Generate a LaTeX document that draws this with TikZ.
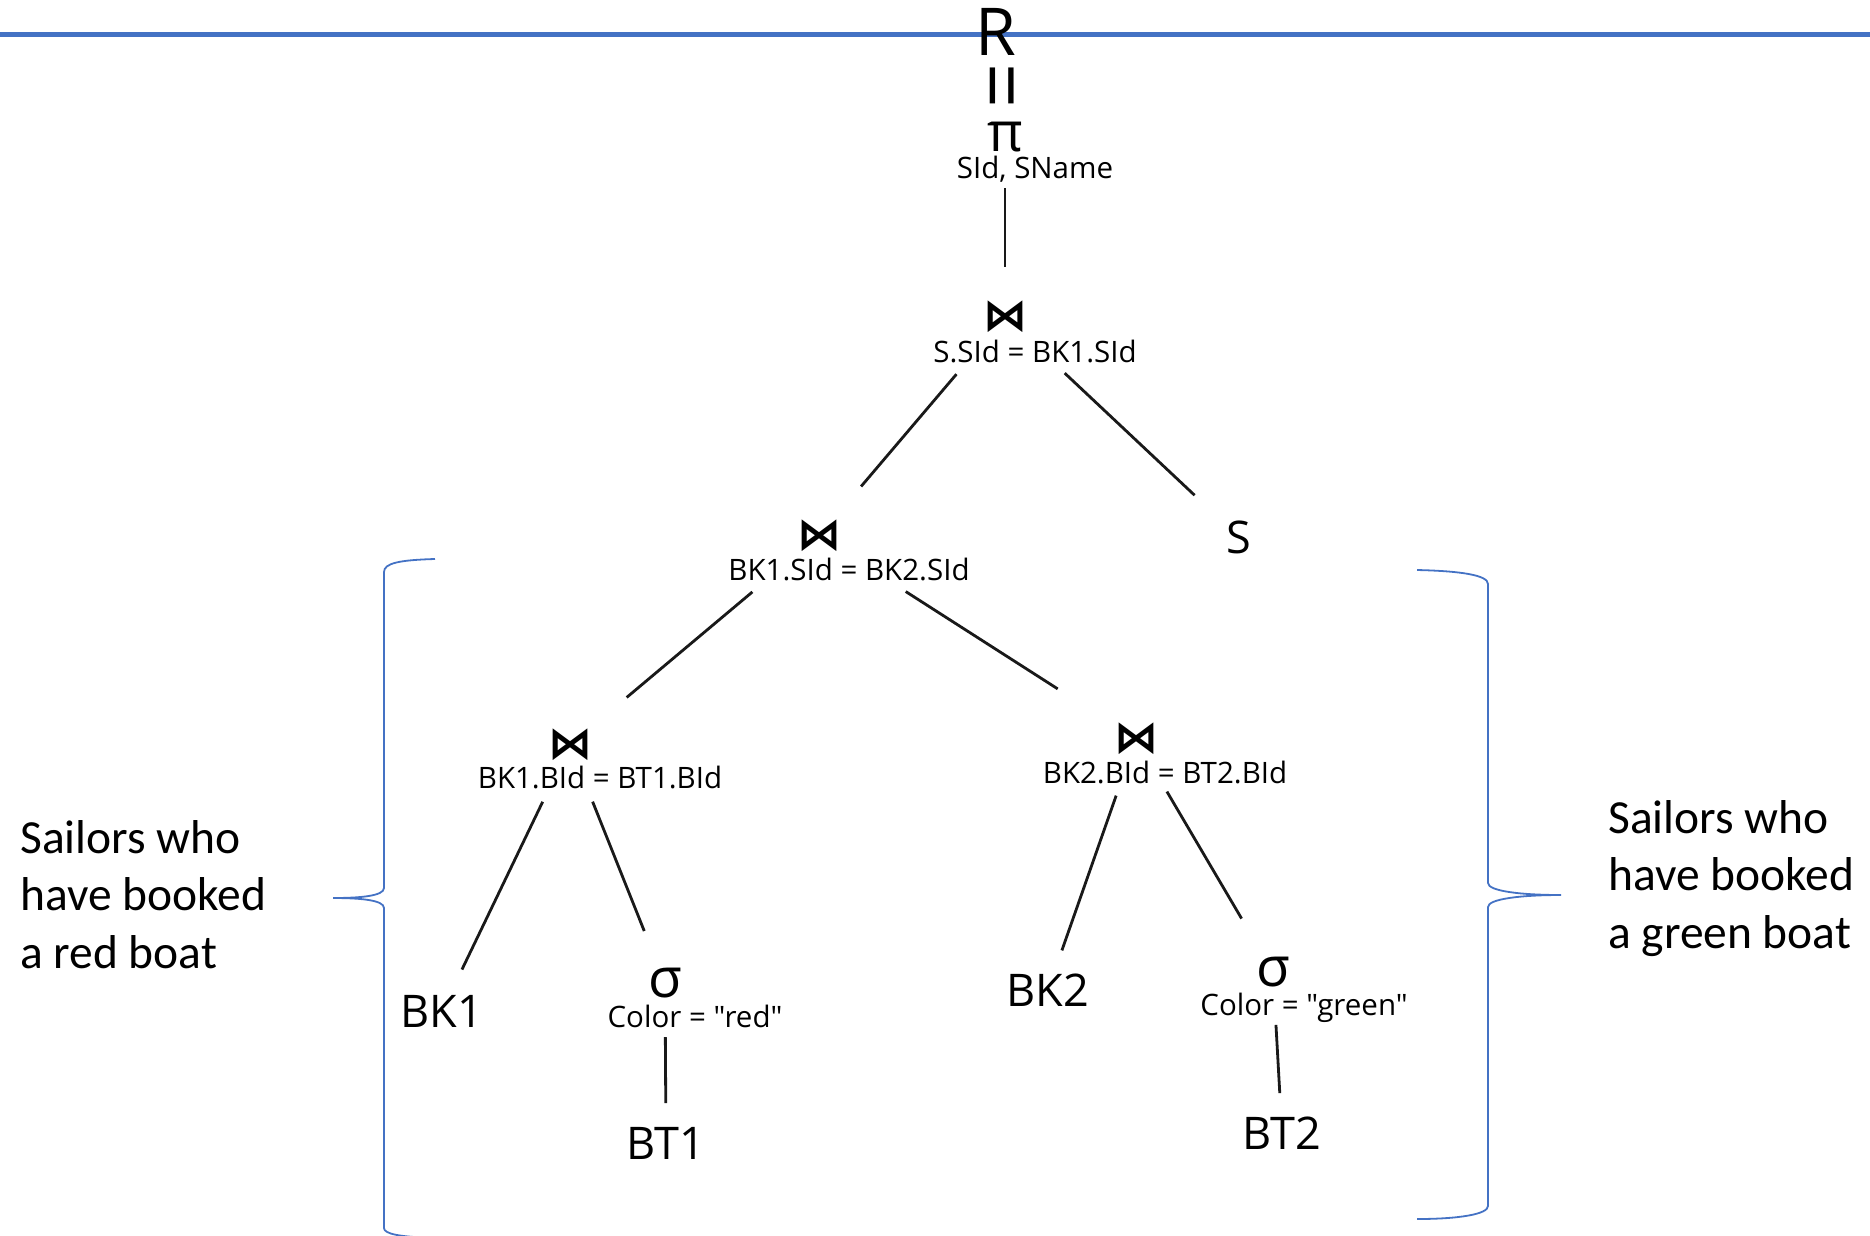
\documentclass[tikz,border=0pt]{standalone}
\usepackage{fontspec}
\setmainfont{Open Sans}[Ligatures=TeXOff]
\newfontfamily\notefont{Carlito}
\newfontfamily\opfont{DejaVu Sans}
\newfontfamily\eqfont{Liberation Sans}
\definecolor{braceblue}{HTML}{4472C4}
\tikzset{
  rel/.style={inner sep=0pt, font=\fontsize{45}{54}\selectfont},
  cond/.style={inner sep=0pt, anchor=base, font=\fontsize{29.5}{34}\selectfont},
  op/.style={inner sep=0pt, font=\opfont\bfseries\fontsize{44}{48}\selectfont},
  greek/.style={inner sep=0pt, font=\fontsize{55}{60}\selectfont},
  note/.style={inner sep=0pt, anchor=base west, align=left, font=\notefont\fontsize{47.5}{57.5}\selectfont},
  tree/.style={line width=2.8pt, color=black!90},
  bracket/.style={line width=1.8pt, color=braceblue},
}
\begin{document}
\begin{tikzpicture}[x=1pt,y=-1pt]
\useasboundingbox (0,0) rectangle (1870,1235);

\draw[line width=5pt, braceblue] (0,34.5) -- (1870,34.5);

\node[inner sep=0pt, anchor=base, font=\fontsize{66}{70}\selectfont] (r) at (996,55) {R};
\node[inner sep=0pt, rotate=90, font=\eqfont\fontsize{74}{74}\selectfont] (eq) at (1008,86) {=};
\node[greek] (pi) at (1005,137) {π};
\node[cond] (picond) at (1035,178) {SId, SName};

\node[op] (j1) at (1005,317) {⋈};
\node[cond] (j1cond) at (1035,362) {S.SId = BK1.SId};
\node[rel] (s) at (1239,537) {S};

\node[op] (j2) at (819,536) {⋈};
\node[cond] (j2cond) at (849,580) {BK1.SId = BK2.SId};

\node[op] (j3) at (570,745) {⋈};
\node[cond] (j3cond) at (600,788) {BK1.BId = BT1.BId};

\node[op] (j4) at (1136,739) {⋈};
\node[cond] (j4cond) at (1165,783) {BK2.BId = BT2.BId};

\node[rel] (bk1) at (442,1011) {BK1};
\node[greek] (sel1) at (665,983) {σ};
\node[cond] (sel1cond) at (695,1027) {Color = "red"};
\node[rel] (bt1) at (666,1143) {BT1};

\node[rel] (bk2) at (1048,990) {BK2};
\node[greek] (sel2) at (1273,972) {σ};
\node[cond] (sel2cond) at (1304,1015) {Color = "green"};
\node[rel] (bt2) at (1282,1133) {BT2};

\draw[tree, shorten <=51pt, shorten >=50pt] (pi.center) -- (j1.center);
\draw[tree, shorten <=75pt, shorten >=65pt] (j1.center) -- (j2.center);
\draw[tree, shorten <=82pt, shorten >=61pt] (j1.center) -- (s.center);
\draw[tree, shorten <=87pt, shorten >=74pt] (j2.center) -- (j3.center);
\draw[tree, shorten <=103pt, shorten >=93pt] (j2.center) -- (j4.center);
\draw[tree, shorten <=63pt, shorten >=46pt] (j3.center) -- (bk1.center);
\draw[tree, shorten <=61pt, shorten >=56pt] (j3.center) -- (sel1.center);
\draw[tree, shorten <=54pt, shorten >=40pt] (sel1.center) -- (bt1.center);
\draw[tree, shorten <=60pt, shorten >=42pt] (j4.center) -- (bk2.center);
\draw[tree, shorten <=61pt, shorten >=62pt] (j4.center) -- (sel2.center);
\draw[tree, shorten <=53pt, shorten >=40pt] (sel2.center) -- (bt2.center);

\draw[bracket] (435,559) .. controls (400,560) and (384,563) .. (384,572) -- (384,888)
  .. controls (384,896) and (360,898) .. (333,898)
  .. controls (360,898) and (384,900) .. (384,908) -- (384,1228)
  .. controls (384,1234) and (400,1237) .. (435,1238);
\draw[bracket] (1417,570) .. controls (1460,571) and (1488,575) .. (1488,584) -- (1488,883)
  .. controls (1488,891) and (1520,895) .. (1561,895)
  .. controls (1520,895) and (1488,899) .. (1488,907) -- (1488,1206)
  .. controls (1488,1214) and (1460,1219) .. (1417,1219);

\node[note] (red) at (20,968) {Sailors who\\have booked\\a red boat};
\node[note] (green) at (1608,948) {Sailors who\\have booked\\a green boat};
\end{tikzpicture}
\end{document}
